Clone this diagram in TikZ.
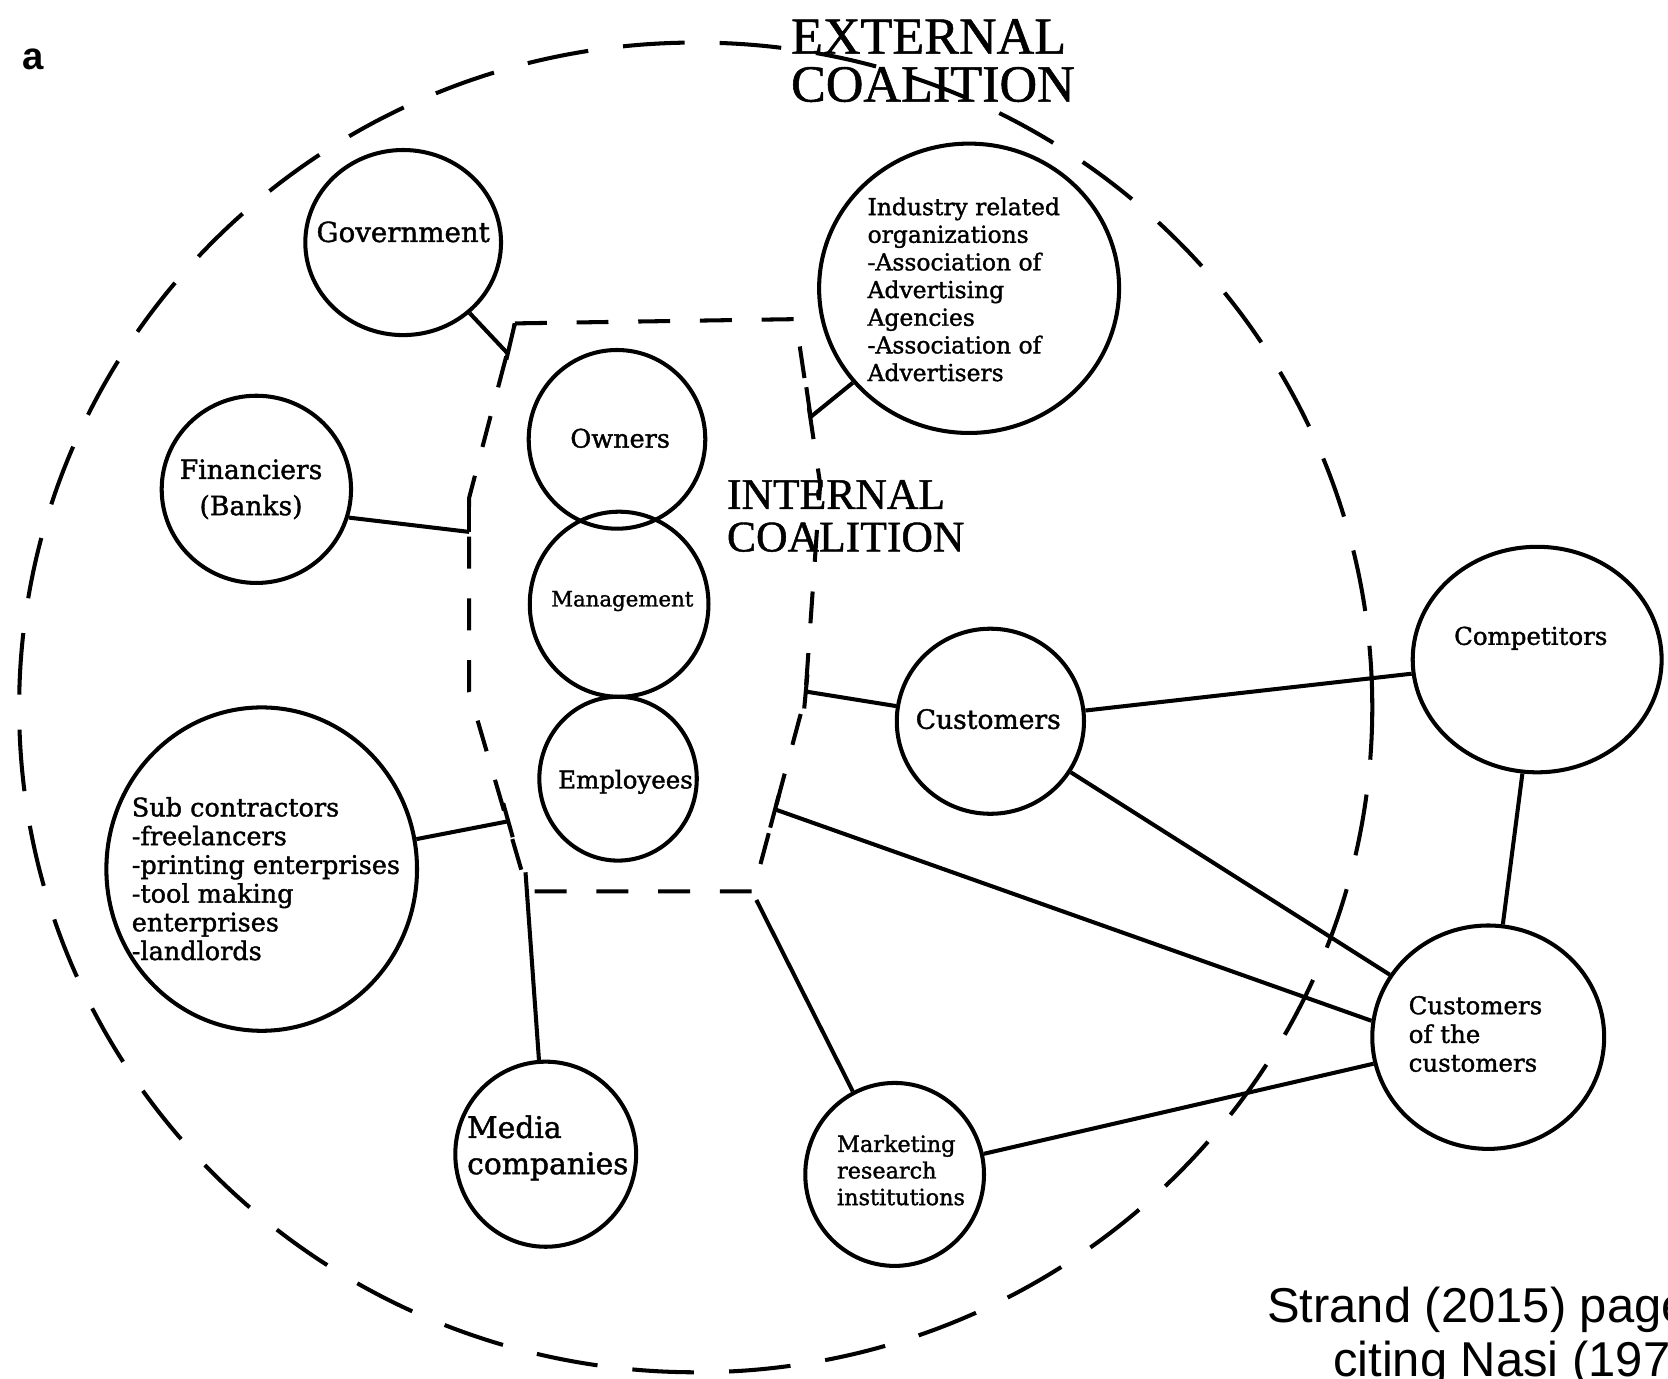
\documentclass[tikz,border=0pt]{standalone}
\usepackage{fontspec}
\setmainfont{DejaVu Serif}[FakeBold=1.4]
\newfontfamily\capsfont{Liberation Serif}[FakeBold=1.0]
\newfontfamily\notefont{Liberation Sans}
\usetikzlibrary{shapes.geometric}

\newcommand{\fsz}[2]{\fontsize{#1}{#2}\selectfont}

\begin{document}
\begin{tikzpicture}[x=1pt,y=-1pt,
  party/.style={draw, ellipse, line width=3.8pt, inner sep=0pt},
  tie/.style={line width=3.8pt},
  boundary/.style={line width=3.8pt, dash pattern=on 30pt off 28pt},
  outerline/.style={line width=3.8pt, dash pattern=on 58pt off 33pt},
  lbl/.style={inner sep=0pt, align=center},
  lbll/.style={inner sep=0pt, align=left},
]
\useasboundingbox[fill=white] (0,0) rectangle (1568,1296);

% external coalition boundary
\draw[outerline] (654,665) ellipse [x radius=636pt, y radius=625pt];

% internal coalition boundary
\coordinate (p1) at (484,304);
\coordinate (p2) at (748,300);
\coordinate (p3) at (771,455);
\coordinate (p4) at (757,655);
\coordinate (p5) at (708,838);
\coordinate (p6) at (496,838);
\coordinate (p7) at (441,650);
\coordinate (p8) at (441,468);
\draw[boundary] (p1) -- (p2) -- (p3) -- (p4) -- (p5) -- (p6) -- (p7) -- (p8) -- cycle;

% stakeholders
\node[party, minimum width=184pt, minimum height=174pt] (gov) at (379,228) {};
\node[party, minimum width=282pt, minimum height=272pt] (ind) at (911,271) {};
\node[party, minimum width=166pt, minimum height=168pt] (own) at (580,413) {};
\node[party, minimum width=168pt, minimum height=174pt] (man) at (582,568) {};
\node[party, minimum width=148pt, minimum height=154pt] (emp) at (581,732) {};
\node[party, minimum width=178pt, minimum height=176pt] (fin) at (241,460) {};
\node[party, minimum width=292pt, minimum height=304pt] (sub) at (246,817) {};
\node[party, minimum width=170pt, minimum height=174pt] (med) at (513,1085) {};
\node[party, minimum width=168pt, minimum height=172pt] (mkt) at (841,1104) {};
\node[party, minimum width=176pt, minimum height=174pt] (cus) at (931,678) {};
\node[party, minimum width=234pt, minimum height=212pt] (com) at (1445,620) {};
\node[party, minimum width=218pt, minimum height=210pt] (coc) at (1399,975) {};

% labels
\node[lbl, font=\fsz{26}{30}] (govt) at (379,218) {Government};
\node[lbll, font=\fsz{22}{26}] (indt) at (906,272) {Industry related\\organizations\\-Association of\\Advertising\\Agencies\\-Association of\\Advertisers};
\node[lbl, font=\fsz{24}{28}] (ownt) at (583,412) {Owners};
\node[lbl, font=\fsz{20}{24}] (mant) at (585,565) {Management};
\node[lbl, font=\fsz{23}{27}] (empt) at (588,735) {Employees};
\node[lbl, font=\fsz{25}{34}] (fint) at (236,460) {Financiers\\(Banks)};
\node[lbll, font=\fsz{24}{27}] (subt) at (250,826) {Sub contractors\\-freelancers\\-printing enterprises\\-tool making\\enterprises\\-landlords};
\node[lbll, font=\fsz{28}{34}] (medt) at (515,1079) {Media\\companies};
\node[lbll, font=\fsz{21}{25}] (mktt) at (847,1100) {Marketing\\research\\institutions};
\node[lbl, font=\fsz{25}{29}] (cust) at (929,676) {Customers};
\node[lbl, font=\fsz{23}{27}] (comt) at (1439,600) {Competitors};
\node[lbll, font=\fsz{23}{27}] (coct) at (1387,972) {Customers\\of the\\customers};

\node[lbll, font=\capsfont\fsz{49}{45}] (extt) at (877,57) {EXTERNAL\\COALITION};
\node[lbll, font=\capsfont\fsz{41}{40}] (intt) at (795,485) {INTERNAL\\COALITION};

\node[inner sep=0pt, font=\notefont\bfseries\fsz{36}{36}] (tag) at (31,56) {a};
\node[anchor=base west, inner sep=0pt, font=\notefont\fsz{46}{51}] (cite1) at (1191,1243) {Strand (2015) page};
\node[anchor=base west, inner sep=0pt, font=\notefont\fsz{46}{51}] (cite2) at (1253,1294) {citing Nasi (1979};

% points where ties meet the internal boundary
\coordinate (govj) at (477,332);
\coordinate (gt1) at (484,304);
\coordinate (gt2) at (476,338);
\coordinate (finj) at (441,500);
\coordinate (ft1) at (441,470);
\coordinate (subj) at (478,772);
\coordinate (st1) at (473,755);
\coordinate (st2) at (482,787);
\coordinate (indj) at (762,392);
\coordinate (it1) at (758,364);
\coordinate (cusj) at (757,650);
\coordinate (ct1) at (759,634);
\coordinate (ct2) at (756,666);
\coordinate (empj) at (729,761);
\coordinate (et1) at (732,748);
\coordinate (et2) at (724,778);
\coordinate (medj) at (494,820);
\coordinate (mktj) at (711,846);

% solid pieces of the boundary at the junctions
\draw[tie] (gt1) -- (gt2);
\draw[tie] (ft1) -- (finj);
\draw[tie] (st1) -- (st2);
\draw[tie] (it1) -- (indj);
\draw[tie] (ct1) -- (ct2);
\draw[tie] (et1) -- (et2);

% ties to the internal coalition
\draw[tie] (gov) -- (govj);
\draw[tie] (fin.-17) -- (finj);
\draw[tie] (sub) -- (subj);
\draw[tie] (ind) -- (indj);
\draw[tie] (cus) -- (cusj);
\draw[tie] (empj) -- (coc.172);
\draw[tie] (med) -- (medj);
\draw[tie] (mkt) -- (mktj);

% ties between external stakeholders
\draw[tie] (cus) -- (com);
\draw[tie] (cus) -- (coc);
\draw[tie] (com) -- (coc);
\draw[tie] (mkt) -- (coc);
\end{tikzpicture}
\end{document}
